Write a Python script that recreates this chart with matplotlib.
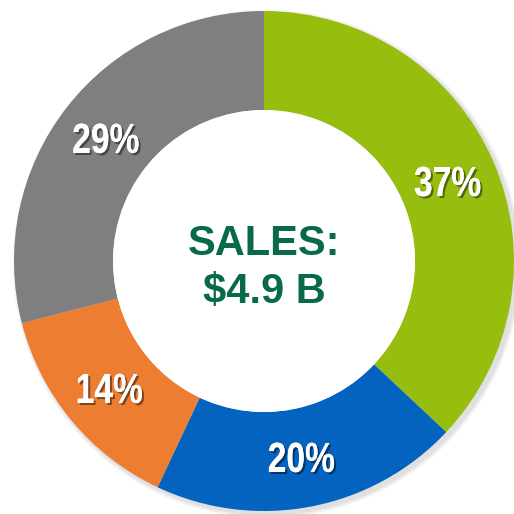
import numpy as np
import matplotlib.pyplot as plt
import matplotlib.patheffects as pe
from matplotlib.textpath import TextPath
from matplotlib.patches import PathPatch, Circle
from matplotlib.font_manager import FontProperties
from matplotlib.transforms import Affine2D

# Datos del gráfico
categorias = ['A', 'B', 'C', 'D']
porcentajes = [37, 20, 14, 29]
colores = ['#97BD0F', '#0563C0', '#ED7D31', '#7F7F7F']
linea1 = 'SALES:'
linea2 = '$4.9 B'

fig = plt.figure(figsize=(5.14, 5.14), dpi=100)
ax = fig.add_axes([0, 0, 1, 1])

# sombra suave del anillo
for i, a in enumerate([0.05, 0.04, 0.03]):
    ax.add_patch(Circle((0.012, -0.012), 1.0 + 0.006 * (i + 1), color='black', alpha=a, lw=0, zorder=0))

wedges, _ = ax.pie(porcentajes, colors=colores, startangle=90, counterclock=False,
                   radius=1.0, wedgeprops=dict(width=0.396, linewidth=0, zorder=1))
ax.add_patch(Circle((0, 0), 0.604, color='white', lw=0, zorder=2))

# texto "narrow": Liberation Sans Bold comprimido en horizontal
fp = FontProperties(family='Liberation Sans', weight='bold')


def texto_estrecho(s, x, y, size, escala_x=0.8):
    tp = TextPath((0, 0), s, size=size, prop=fp)
    bb = tp.get_extents()
    cx = (bb.x0 + bb.x1) / 2
    cy = (bb.y0 + bb.y1) / 2
    t = Affine2D().translate(-cx, -cy).scale(escala_x, 1).translate(x, y)
    patch = PathPatch(t.transform_path(tp), facecolor='white', lw=0, zorder=5,
                      path_effects=[pe.withSimplePatchShadow(offset=(1.5, -1.5), shadow_rgbFace='black', alpha=0.45),
                                    pe.Normal()])
    ax.add_patch(patch)


total = sum(porcentajes)
acum = 0
for p in porcentajes:
    ang = np.deg2rad(90 - 360 * (acum + p / 2) / total)
    acum += p
    r = 0.8
    texto_estrecho(f'{p}%', r * np.cos(ang), r * np.sin(ang), 0.168)

ax.text(0, 0.024, linea1, ha='center', va='baseline', color='#086A4A', fontsize=30,
        fontweight='bold', family=['Liberation Sans', 'DejaVu Sans'], zorder=5)
ax.text(0, -0.168, linea2, ha='center', va='baseline', color='#086A4A', fontsize=30,
        fontweight='bold', family=['Liberation Sans', 'DejaVu Sans'], zorder=5)

ax.set_xlim(-264 / 250, 250 / 250)
ax.set_ylim(-253 / 250, 261 / 250)
ax.set_aspect('auto')
ax.axis('off')

fig.savefig('out.png', dpi=100, facecolor='white')
